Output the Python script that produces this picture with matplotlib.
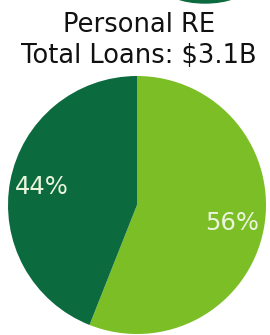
import matplotlib
matplotlib.use("Agg")
import matplotlib.pyplot as plt
from matplotlib.patches import Ellipse

title_lines = ["Personal RE", "Total Loans: $3.1B"]
categories = ["Other", "Personal RE"]
shares = [56, 44]
colors = ["#7BBE26", "#0B6A3E"]

W, H = 270, 335
fig = plt.figure(figsize=(W / 100, H / 100), dpi=100)
fig.patch.set_facecolor("white")

# overlay axes in pixel coordinates for title and decoration
bg = fig.add_axes([0, 0, 1, 1])
bg.set_xlim(0, W)
bg.set_ylim(H, 0)
bg.axis("off")
bg.add_patch(Ellipse((205, -14), 84, 34, color="#0B6A3E", zorder=1))
font = "DejaVu Sans"
bg.text(139, 32, title_lines[0], ha="center", va="baseline", fontsize=18.5,
        color="#111111", family=font)
bg.text(139, 63, title_lines[1], ha="center", va="baseline", fontsize=18.5,
        color="#111111", family=font)

cx, cy, r = 137, 205, 129
ax = fig.add_axes([(cx - r) / W, (H - cy - r) / H, 2 * r / W, 2 * r / H])
wedges, texts, autotexts = ax.pie(
    shares, colors=colors, startangle=90, counterclock=False,
    autopct=lambda p: f"{p:.0f}%", pctdistance=0.75,
    wedgeprops=dict(linewidth=0),
    textprops=dict(color="#EAF5DC", fontsize=17.5, family=font),
)
ax.set_xlim(-1, 1)
ax.set_ylim(-1, 1)
ax.set_aspect("equal")
ax.axis("off")

fig.savefig("out.png", dpi=100, facecolor="white")
